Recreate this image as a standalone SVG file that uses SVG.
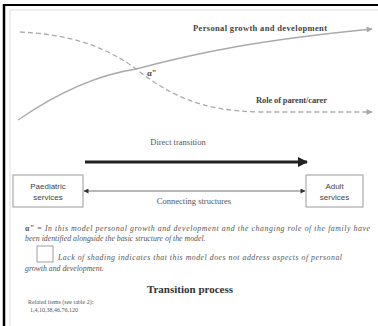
<svg xmlns="http://www.w3.org/2000/svg" width="378" height="326" viewBox="0 0 378 326">
<style>
.serif{font-family:"Liberation Serif","Times New Roman",serif}
.sans{font-family:"Liberation Sans",Arial,sans-serif}
.lbl{font-size:8.5px;fill:#444;font-weight:bold}
.box{fill:#fff;stroke:#999;stroke-width:1}
.note{font-size:7.8px;fill:#555;font-style:italic}
.curve{fill:none;stroke:#aaa;stroke-width:1.3}
</style>
<defs>
<marker id="gh" viewBox="0 0 10 10" refX="9" refY="5" markerWidth="9" markerHeight="6" orient="auto" markerUnits="userSpaceOnUse"><path d="M0,0L10,5L0,10z" fill="#aaa"/></marker>
<marker id="bh" viewBox="0 0 10 10" refX="9" refY="5" markerWidth="10" markerHeight="10" orient="auto" markerUnits="userSpaceOnUse"><path d="M0,0L10,5L0,10z" fill="#222"/></marker>
<marker id="sh" viewBox="0 0 10 10" refX="9" refY="5" markerWidth="6" markerHeight="5" orient="auto-start-reverse" markerUnits="userSpaceOnUse"><path d="M0,0L10,5L0,10z" fill="#333"/></marker>
</defs>
<rect width="378" height="326" fill="#fff"/>
<rect x="10" y="10" width="380" height="330" fill="none" stroke="#ddd" stroke-width="1"/>
<line x1="4" y1="5" x2="378" y2="5" stroke="#000" stroke-width="2"/>
<line x1="4" y1="4" x2="4" y2="326" stroke="#000" stroke-width="2.5"/>
<g id="connectors">
<path class="curve" d="M18,120 C50,98 90,76 136,69 C200,52 260,40 372,29" marker-end="url(#gh)"/>
<path class="curve" stroke-dasharray="5,3" d="M20,32 C60,34 100,42 136,69 C170,95 200,111 260,112 L372,112" marker-end="url(#gh)"/>
<line x1="85" y1="162" x2="307" y2="162" stroke="#222" stroke-width="3" marker-end="url(#bh)"/>
<line x1="84" y1="191" x2="305" y2="191" stroke="#333" stroke-width="0.7" marker-start="url(#sh)" marker-end="url(#sh)"/>
</g>
<text class="serif lbl" x="193" y="31" textLength="134">Personal growth and development</text>
<text class="serif lbl" x="147" y="76">α"</text>
<text class="serif lbl" x="256" y="103" textLength="71">Role of parent/carer</text>
<text class="serif" x="178" y="145" font-size="8.5" fill="#555" text-anchor="middle">Direct transition</text>
<text class="serif" x="194" y="204" font-size="8.5" fill="#555" text-anchor="middle">Connecting structures</text>
<g id="paediatric">
<rect class="box" x="13" y="175" width="70" height="32"/>
<text class="sans" x="48" y="189" font-size="8" fill="#444" text-anchor="middle">Paediatric</text>
<text class="sans" x="48" y="200" font-size="8" fill="#444" text-anchor="middle">services</text>
</g>
<g id="adult">
<rect class="box" x="306" y="175" width="57" height="32"/>
<text class="sans" x="334.5" y="189" font-size="8" fill="#444" text-anchor="middle">Adult</text>
<text class="sans" x="334.5" y="200" font-size="8" fill="#444" text-anchor="middle">services</text>
</g>
<text class="serif note" x="25" y="231" textLength="345"><tspan font-style="normal" font-weight="bold">α" =</tspan> In this model personal growth and development and the changing role of the family have</text>
<text class="serif note" x="25" y="241">been identified alongside the basic structure of the model.</text>
<rect x="37" y="246" width="16" height="16" fill="#fff" stroke="#888" stroke-width="0.8"/>
<text class="serif note" x="58" y="260" textLength="284">Lack of shading indicates that this model does not address aspects of personal</text>
<text class="serif note" x="25" y="271">growth and development.</text>
<text class="serif" x="190" y="293" font-size="11" font-weight="bold" fill="#333" text-anchor="middle">Transition process</text>
<text class="serif" x="28" y="304" font-size="6" fill="#555">Related items (see table 2):</text>
<text class="serif" x="30" y="312" font-size="6" fill="#555">1,4,10,38,46,76,120</text>
</svg>
